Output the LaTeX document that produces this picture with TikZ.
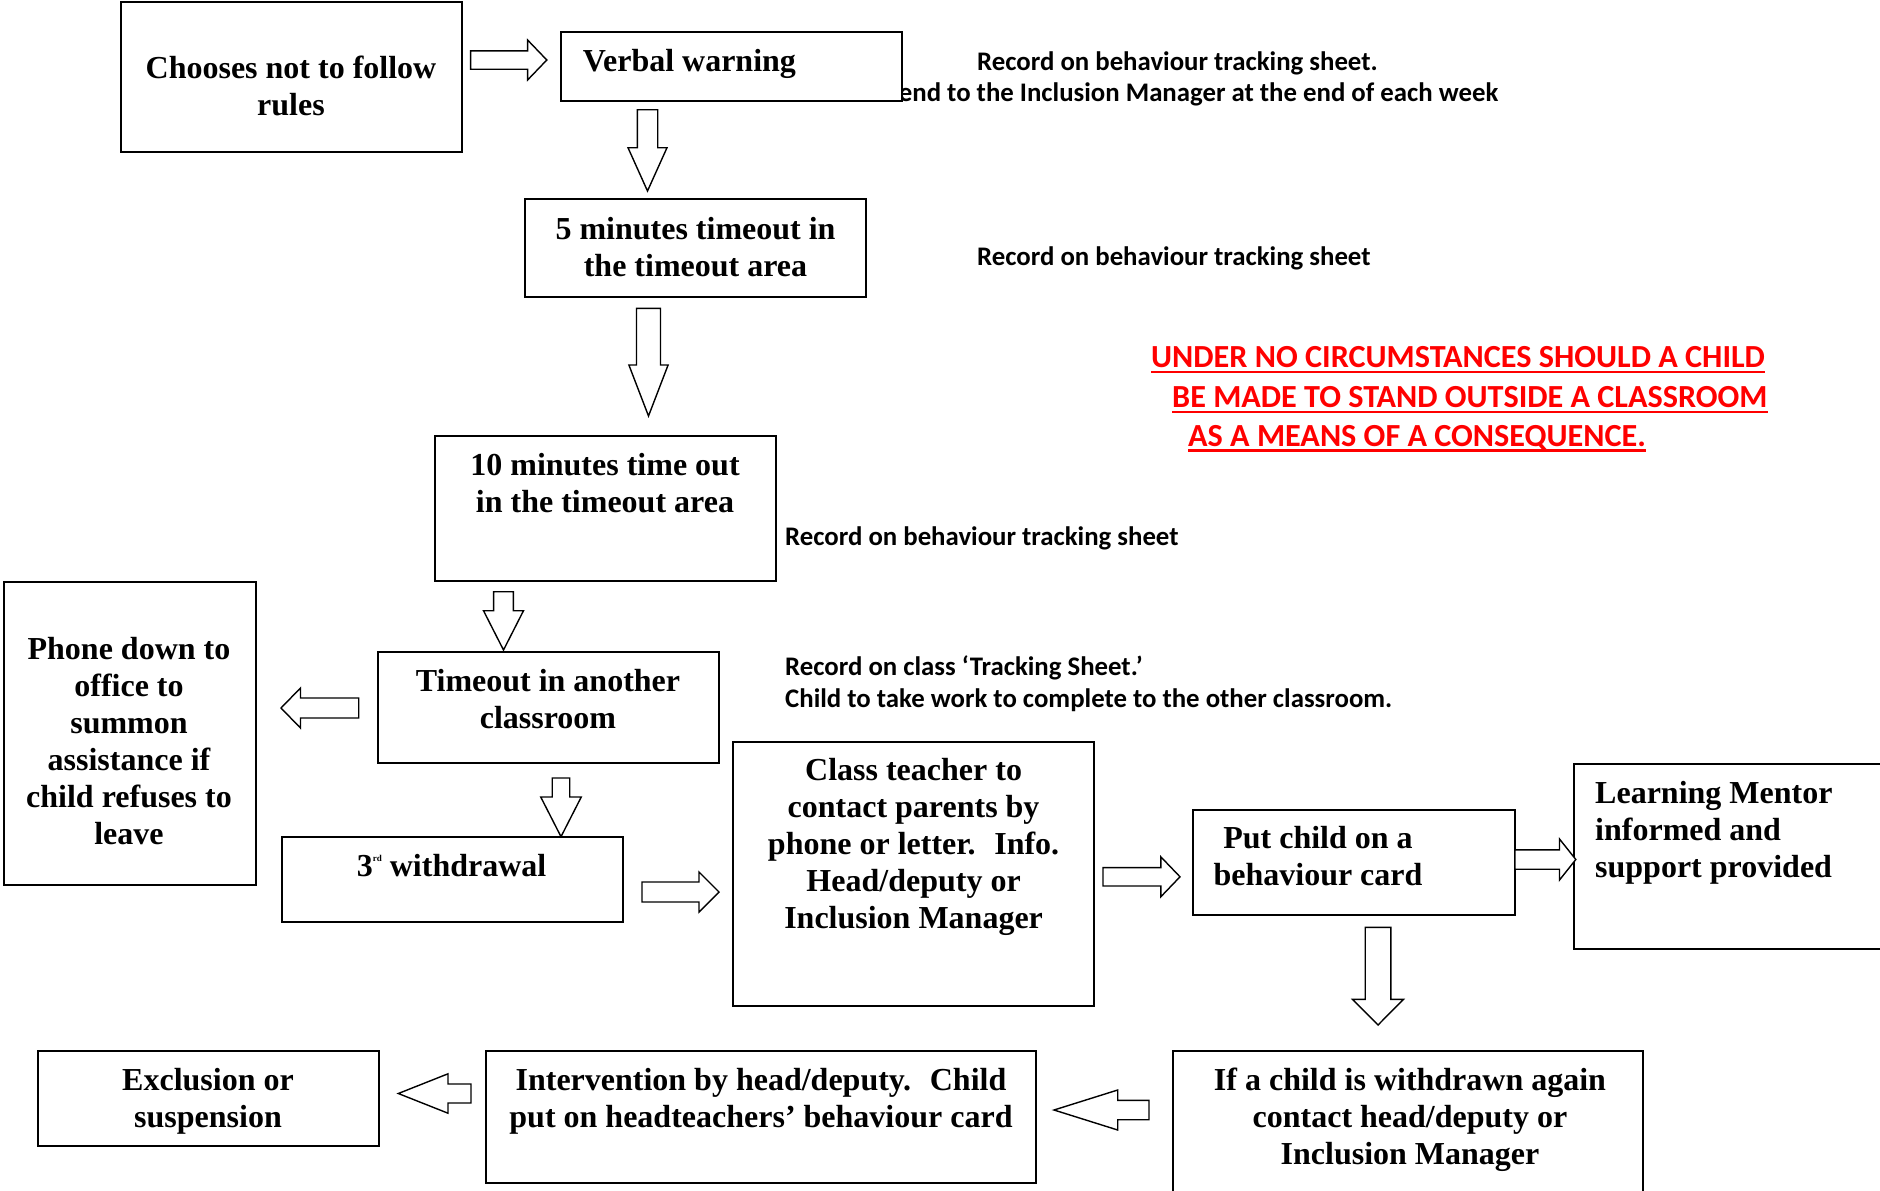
\documentclass[tikz,border=0pt]{standalone}
\usepackage{fontspec}
\setmainfont{Liberation Serif}
\newfontfamily\calib{Carlito}
\tikzset{
  box/.style={draw, line width=1.8pt, fill=white, inner sep=0pt, outer sep=0pt, anchor=north west},
  btext/.style={font=\fontsize{32}{37}\selectfont\bfseries, inner sep=0pt, align=center, anchor=north},
  ltext/.style={btext, align=left, anchor=north west},
  note/.style={font=\fontsize{26.8}{31}\selectfont\calib\bfseries, inner sep=0pt, anchor=base west},
  warn/.style={font=\fontsize{32.2}{39}\selectfont\calib\bfseries, text=red, inner sep=0pt, anchor=base west},
  warnline/.style={draw=red, line width=2.5pt},
  barrow/.style={draw, line width=1.4pt, fill=white, line join=miter},
}
\newcommand\fst{\rule{0pt}{30pt}}
% box: name, left, top, right, bottom
\newcommand\mkbox[5]{\node[box, minimum width={#4-#2}, minimum height={#5-#3}] (#1) at (#2,#3) {};}
% horizontal block arrow: tail x, head-base x, tip x, centre y, shaft half, head half
\newcommand\arrH[6]{\draw[barrow] (#1,#4-#5) -- (#2,#4-#5) -- (#2,#4-#6) -- (#3,#4) -- (#2,#4+#6) -- (#2,#4+#5) -- (#1,#4+#5) -- cycle;}
% vertical block arrow: tail y, head-base y, tip y, centre x, shaft half, head half
\newcommand\arrV[6]{\draw[barrow] (#4-#5,#1) -- (#4-#5,#2) -- (#4-#6,#2) -- (#4,#3) -- (#4+#6,#2) -- (#4+#5,#2) -- (#4+#5,#1) -- cycle;}
\begin{document}
\begin{tikzpicture}[x=1pt,y=-1pt]
\clip (0,0) rectangle (1880,1191);
\fill[white] (0,0) rectangle (1880,1191);

% notes
\node[note] (n1) at (977,70) {Record on behaviour tracking sheet.};
\node[note] (n2) at (886,101.7) {Send to the Inclusion Manager at the end of each week};
\node[note] (n3) at (977,265) {Record on behaviour tracking sheet};
\node[note] (n4) at (785,545) {Record on behaviour tracking sheet};
\node[note] (n5) at (785,675) {Record on class ‘Tracking Sheet.’};
\node[note] (n6) at (785,707.3) {Child to take work to complete to the other classroom.};

% warning
\node[warn] (w1) at (1151,367.7) {UNDER NO CIRCUMSTANCES SHOULD A CHILD};
\node[warn] (w2) at (1172,407.3) {BE MADE TO STAND OUTSIDE A CLASSROOM};
\node[warn] (w3) at (1188,446) {AS A MEANS OF A CONSEQUENCE.};
\foreach \w in {w1,w2,w3}
  \draw[warnline] ([yshift=-4.5pt]\w.base west) -- ([yshift=-4.5pt]\w.base east);

% boxes
\mkbox{b1}{121}{2}{462}{152}
\mkbox{b2}{561}{32}{902}{101}
\mkbox{b3}{525}{199}{866}{297}
\mkbox{b4}{435}{436}{776}{581}
\mkbox{b5}{378}{652}{719}{763}
\mkbox{b6}{4}{582}{256}{885}
\mkbox{b7}{282}{837}{623}{922}
\mkbox{b8}{733}{742}{1094}{1006}
\mkbox{b9}{1193}{810}{1515}{915}
\mkbox{b10}{1574}{764}{1890}{949}
\mkbox{b11}{38}{1051}{379}{1146}
\mkbox{b12}{486}{1051}{1036}{1183}
\mkbox{b13}{1173}{1051}{1643}{1200}

% box texts
\node[btext] (t1) at (291,48) {\fst Chooses not to follow\\rules};
\node[ltext] (t2) at (582.7,41.7) {\fst Verbal warning};
\node[btext] (t3) at (695.5,209.3) {\fst 5 minutes timeout in\\the timeout area};
\node[btext] (t4) at (605,445) {\fst 10 minutes time out\\in the timeout area};
\node[btext] (t5) at (548,661.7) {\fst Timeout in another\\classroom};
\node[btext] (t6) at (129,629) {\fst Phone down to\\office to\\summon\\assistance if\\child refuses to\\leave};
\node[btext] (t7) at (451.6,846) {\fst 3\raisebox{15pt}{\fontsize{9}{9}\selectfont rd} withdrawal};
\node[btext] (t8) at (913.6,750.7) {\fst Class teacher to\\contact parents by\\phone or letter.~ Info.\\Head/deputy or\\Inclusion Manager};
\node[btext] (t9) at (1318,818.3) {\fst Put child on a\\behaviour card};
\node[ltext] (t10) at (1595,773.3) {\fst Learning Mentor\\informed and\\support provided};
\node[btext] (t11) at (208,1060) {\fst Exclusion or\\suspension};
\node[btext] (t12) at (761,1060) {\fst Intervention by head/deputy.~ Child\\put on headteachers’ behaviour card};
\node[btext] (t13) at (1410,1060) {\fst If a child is withdrawn again\\contact head/deputy or\\Inclusion Manager};

% block arrows
\arrH{470.6}{527.6}{546.8}{60}{9.2}{20}
\arrV{109.7}{147.7}{191}{647.5}{10.2}{19.5}
\arrV{308.3}{365}{416}{648.5}{12}{19.6}
\arrV{591.7}{610.7}{650}{503.5}{9.9}{20}
\arrH{358.7}{300.5}{281}{708}{10}{20}
\arrV{778}{797}{836.7}{561}{8.75}{20.25}
\arrH{642}{699}{719}{892}{10}{20}
\arrH{1103}{1160.8}{1180}{876.8}{9.2}{20}
\arrH{1515}{1559.5}{1575.8}{859.5}{9.7}{20.5}
\arrV{927.3}{999.3}{1025}{1378}{12.8}{25.5}
\arrH{1149}{1117.7}{1054}{1110}{9.7}{20}
\arrH{471}{448}{398.3}{1093.5}{9.5}{19.7}
\end{tikzpicture}
\end{document}
